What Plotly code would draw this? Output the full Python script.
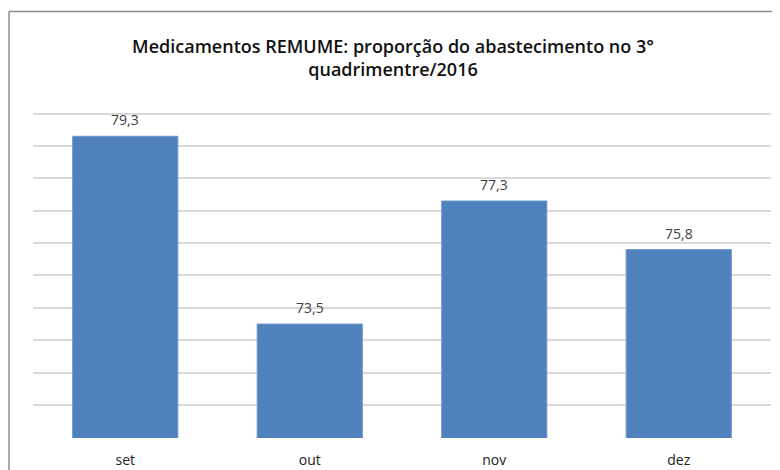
import plotly.graph_objects as go

categories = ["set", "out", "nov", "dez"]
values = [79.3, 73.5, 77.3, 75.8]
title_text = "Medicamentos REMUME: proporção do abastecimento no 3°<br>quadrimentre/2016"

# page body has an 8px margin; compensate so the chart lands where the reference has it
OFF = 8
W, H = 780, 470
ymin, ymax = 69.98, 80.05
px_per_unit = 32.3
top_px, bot_px = 114 - OFF, 437 - OFF          # pixel rows of y=80 and y=70
left_px, right_px = 33 - OFF, 771 - OFF
mt = top_px - (ymax - 80) * px_per_unit
mb = H - (bot_px + (70 - ymin) * px_per_unit)
ml, mr = left_px, W - right_px
pw, ph = W - ml - mr, H - mt - mb

fig = go.Figure()
fig.add_trace(go.Bar(
    x=categories, y=values,
    marker=dict(color="#4f81bd", line=dict(color="#6f97c9", width=1)),
    hoverinfo="x+y",
))

for c, v in zip(categories, values):
    fig.add_annotation(
        x=c, y=v, text=f"{v:.1f}".replace(".", ","),
        showarrow=False, yanchor="bottom", yshift=5,
        font=dict(family="Open Sans, Arial", size=14, color="#404040"),
    )

fx = lambda px: (px - OFF - ml) / pw
fy = lambda py: 1 - (py - OFF - mt) / ph
# chart frame (left and top edges visible)
fig.add_shape(type="line", xref="paper", yref="paper",
              x0=fx(9), x1=fx(9), y0=fy(12), y1=fy(480),
              line=dict(color="#8c8c8c", width=1.5))
fig.add_shape(type="line", xref="paper", yref="paper",
              x0=fx(9), x1=fx(800), y0=fy(12), y1=fy(12),
              line=dict(color="#8c8c8c", width=1.5))

fig.update_layout(
    width=W, height=H,
    margin=dict(l=ml, r=mr, t=mt, b=mb, autoexpand=False),
    paper_bgcolor="white", plot_bgcolor="white",
    bargap=0.43,
    showlegend=False,
    separators=",.",
    title=dict(text=title_text, x=(393 - OFF) / W, xanchor="center",
               y=1 - (53 - OFF) / H, yanchor="middle",
               font=dict(family="Open Sans, Arial", size=18, color="#111111", weight=600)),
    xaxis=dict(showline=False, ticks="", tickfont=dict(family="Open Sans, Arial", size=14, color="#222222"),
               ticklabelstandoff=12),
    yaxis=dict(range=[ymin, ymax], dtick=1, tick0=70, showticklabels=False, showgrid=True,
               gridcolor="#d9d9d9", gridwidth=1.5, zeroline=False, showline=False),
)

fig.write_html("out.html")
